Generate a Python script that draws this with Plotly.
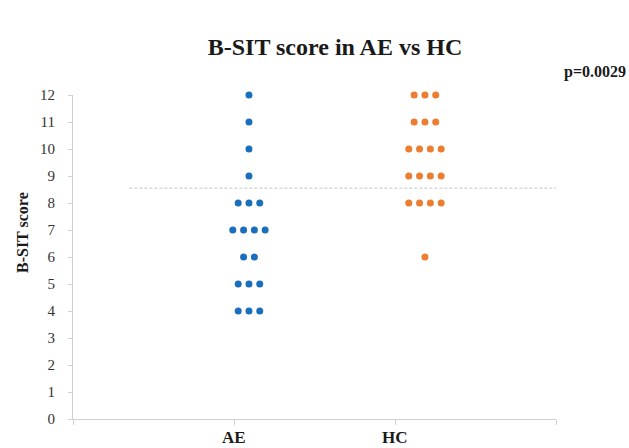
import plotly.graph_objects as go

title_text = "B-SIT score in AE vs HC"
y_title = "B-SIT score"
groups = ["AE", "HC"]
group_pos = [1, 2]
score_levels = [12, 11, 10, 9, 8, 7, 6, 5, 4]
ae_counts = [1, 1, 1, 1, 3, 4, 2, 3, 3]
hc_counts = [3, 3, 4, 4, 4, 0, 1, 0, 0]
threshold = 8.55
p_label = "p=0.0029"
y_ticks = list(range(0, 13))

colors = {"AE": "#1a6fbd", "HC": "#ec7d31"}
centers = {"AE": 1.093, "HC": 2.186}
spacing = 0.067

W, H = 629, 448
L, R, T, B = 73, 73, 95, 29
pw, ph = W - L - R, H - T - B


def swarm(levels, counts, center):
    xs, ys = [], []
    for v, n in zip(levels, counts):
        for i in range(n):
            xs.append(center + (i - (n - 1) / 2) * spacing)
            ys.append(v)
    return xs, ys


fig = go.Figure()
for g, counts in zip(groups, [ae_counts, hc_counts]):
    xs, ys = swarm(score_levels, counts, centers[g])
    fig.add_trace(go.Scatter(
        x=xs, y=ys, mode="markers", name=g,
        marker=dict(size=7, color=colors[g]),
        cliponaxis=False, showlegend=False,
    ))

fig.add_shape(type="line", xref="x", yref="y", x0=0.35, x1=3.02,
              y0=threshold, y1=threshold,
              line=dict(color="#c4c4c4", width=1, dash="3px,2px"))

serif = "Liberation Serif, Times New Roman, serif"
annotations = [
    dict(text="<b>" + p_label + "</b>", xref="paper", yref="paper",
         x=(628 - L) / pw, y=(H - B - 72) / ph,
         xanchor="right", yanchor="middle", showarrow=False,
         font=dict(family=serif, size=16, color="#1a1a1a")),
    dict(text="<b>" + y_title + "</b>", xref="paper", yref="paper",
         x=(22 - L) / pw, y=(H - B - 233) / ph, textangle=-90,
         xanchor="center", yanchor="middle", showarrow=False,
         font=dict(family=serif, size=16, color="#1a1a1a")),
]
for g, xp in zip(groups, group_pos):
    annotations.append(dict(
        text="<b>" + g + "</b>", xref="x", yref="paper",
        x=xp, y=-(437 - (H - B)) / ph, xanchor="center", yanchor="middle",
        showarrow=False, font=dict(family=serif, size=17, color="#1a1a1a")))

fig.update_layout(
    width=W, height=H,
    margin=dict(l=L, r=R, t=T, b=B),
    paper_bgcolor="white", plot_bgcolor="white",
    hovermode=False,
    title=dict(text="<b>" + title_text + "</b>", x=335 / W, xanchor="center",
               y=1 - 47 / H, yanchor="middle",
               font=dict(family=serif, size=24, color="#1a1a1a")),
    xaxis=dict(range=[0, 3], tickmode="array", tickvals=[0, 1, 2, 3],
               showticklabels=False,
               showgrid=False, zeroline=False, showline=True,
               linecolor="#d0d0d0", linewidth=1, automargin=False,
               ticks="outside", ticklen=5, tickcolor="#d0d0d0"),
    yaxis=dict(range=[0, 12], tickmode="array", tickvals=y_ticks,
               showgrid=False, zeroline=False, showline=True,
               linecolor="#d0d0d0", linewidth=1, automargin=False,
               ticks="outside", ticklen=4, tickcolor="#d0d0d0",
               tickfont=dict(family=serif, size=15, color="#333333"),
               ticklabelstandoff=10),
    annotations=annotations,
)

fig.write_html("out.html",
               config={"displayModeBar": False},
               post_script="document.body.style.margin='0';document.body.style.overflow='hidden';")
